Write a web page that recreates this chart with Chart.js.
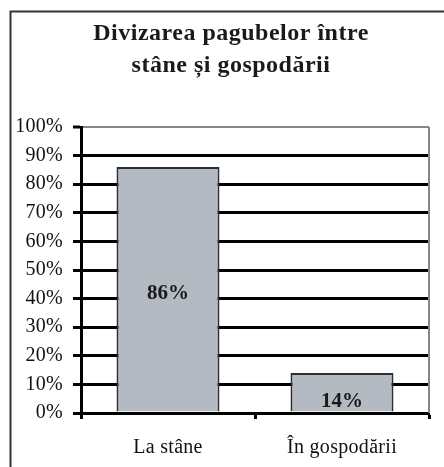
<!DOCTYPE html>
<html>
<head>
<meta charset="utf-8">
<script src="https://cdn.jsdelivr.net/npm/chart.js@4/dist/chart.umd.min.js"></script>
<style>
  html, body { margin: 0; padding: 0; background: #ffffff; }
  canvas { display: block; }
</style>
</head>
<body>
<canvas id="c" width="444" height="467"></canvas>
<script>
const titleLines = ['Divizarea pagubelor între', 'stâne și gospodării'];
const categories = ['La stâne', 'În gospodării'];
const shares = [86, 14];
const yTickValues = [0, 10, 20, 30, 40, 50, 60, 70, 80, 90, 100];

const SERIF = '"Liberation Serif", "Times New Roman", serif';

const decor = {
  id: 'decor',
  beforeDraw(chart) {
    chart.ctx.letterSpacing = '0.3px';
  },
  afterDatasetsDraw(chart) {
    const ctx = chart.ctx;
    const a = chart.chartArea;
    ctx.save();
    // plot area right border
    ctx.strokeStyle = '#7d888f';
    ctx.lineWidth = 2;
    ctx.beginPath();
    ctx.moveTo(a.right, a.top);
    ctx.lineTo(a.right, a.bottom);
    ctx.stroke();
    // data labels
    const meta = chart.getDatasetMeta(0);
    const offsets = [4, 9];
    ctx.fillStyle = '#1a1a1a';
    ctx.font = 'bold 21px ' + SERIF;
    ctx.letterSpacing = '0px';
    ctx.textAlign = 'center';
    ctx.textBaseline = 'middle';
    meta.data.forEach((bar, i) => {
      const cy = (bar.y + bar.base) / 2 + offsets[i];
      ctx.fillText(shares[i] + '%', bar.x, cy);
    });
    ctx.restore();
  },
  afterDraw(chart) {
    const ctx = chart.ctx;
    ctx.save();
    // outer frame
    ctx.strokeStyle = '#333333';
    ctx.lineWidth = 2;
    ctx.beginPath();
    ctx.moveTo(10.5, chart.height);
    ctx.lineTo(10.5, 11.5);
    ctx.lineTo(chart.width, 11.5);
    ctx.stroke();
    // title
    ctx.fillStyle = '#1a1a1a';
    ctx.font = 'bold 24px ' + SERIF;
    ctx.letterSpacing = '0.5px';
    ctx.textAlign = 'center';
    ctx.textBaseline = 'middle';
    ctx.fillText(titleLines[0], 231, 34);
    ctx.fillText(titleLines[1], 231, 66);
    ctx.restore();
  }
};

new Chart(document.getElementById('c'), {
  type: 'bar',
  data: {
    labels: categories,
    datasets: [{
      data: shares,
      backgroundColor: '#b3bac1',
      borderColor: '#2e2e2e',
      borderWidth: 2,
      barPercentage: 0.592,
      categoryPercentage: 1.0
    }]
  },
  options: {
    responsive: false,
    devicePixelRatio: 1,
    animation: false,
    layout: { padding: { left: 0, right: 15, top: 127, bottom: 0 } },
    plugins: {
      legend: { display: false },
      title: { display: false },
      tooltip: { enabled: false }
    },
    scales: {
      y: {
        min: 0,
        max: 100,
        afterBuildTicks(scale) {
          scale.ticks = yTickValues.map(v => ({ value: v }));
        },
        afterFit(scale) { scale.width = 81; },
        ticks: {
          callback: v => v + '%',
          color: '#111111',
          font: { family: SERIF, size: 20 },
          padding: 10
        },
        grid: {
          color: c => (c.tick && c.tick.value === 100) ? '#7d888f' : '#000000',
          lineWidth: c => (c.tick && c.tick.value === 100) ? 2 : 3,
          tickColor: '#000000',
          tickWidth: 3,
          tickLength: 8
        },
        border: { display: true, color: '#000000', width: 3 }
      },
      x: {
        afterFit(scale) { scale.height = 54; },
        ticks: {
          color: '#111111',
          font: { family: SERIF, size: 20 },
          padding: 17
        },
        grid: {
          offset: true,
          drawOnChartArea: false,
          tickColor: '#000000',
          tickWidth: 3,
          tickLength: 6
        },
        border: { display: true, color: '#000000', width: 3 }
      }
    }
  },
  plugins: [decor]
});
</script>
</body>
</html>
